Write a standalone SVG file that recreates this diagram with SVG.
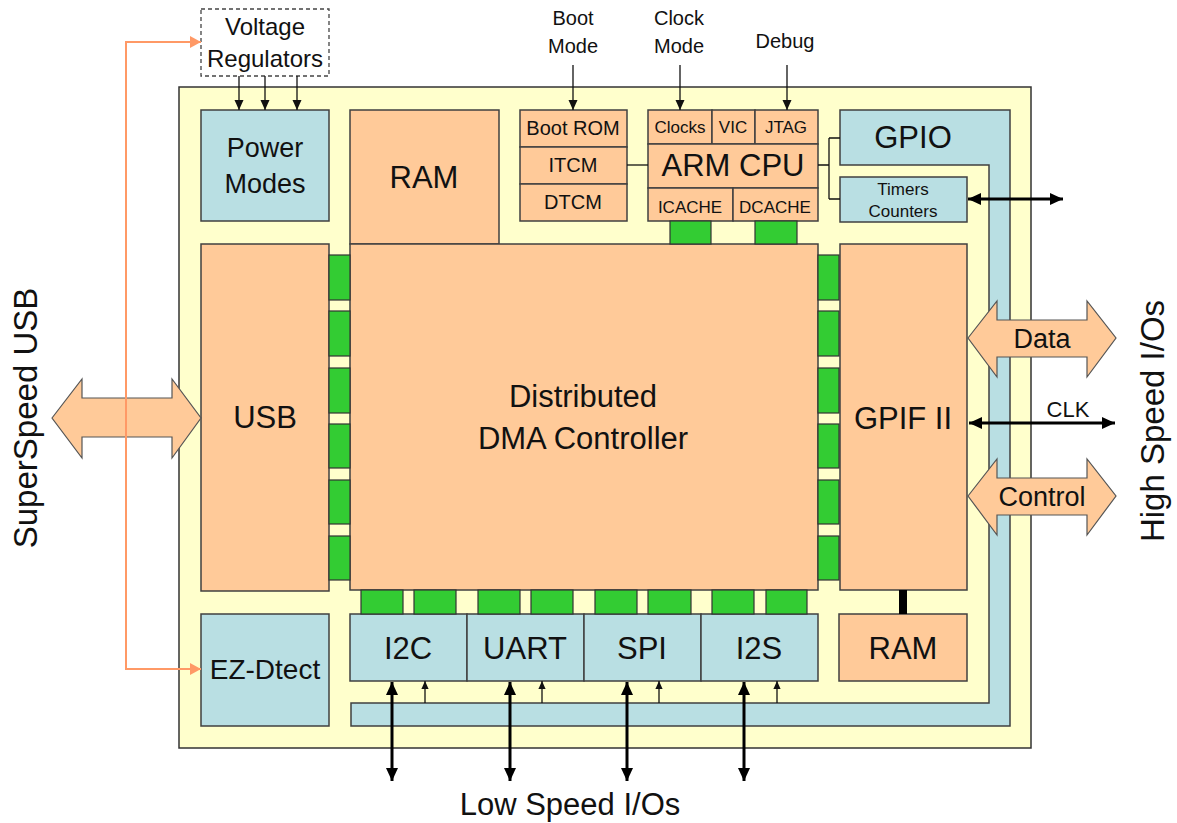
<svg xmlns="http://www.w3.org/2000/svg" width="1177" height="823" viewBox="0 0 1177 823">
<style>
text{font-family:"Liberation Sans",Arial,sans-serif;fill:#111;text-anchor:middle}
.chip{fill:#FFFFCC;stroke:#333;stroke-width:1.5}
.or{fill:#FFCA99;stroke:#404040;stroke-width:1.5}
.bl{fill:#B9DFE3;stroke:#404040;stroke-width:1.5}
.gr{fill:#33CC33;stroke:#333;stroke-width:1.2}
.thin{stroke:#111;stroke-width:1.3;fill:none}
.thick{stroke:#000;stroke-width:3;fill:none}
.orl{stroke:#FF9966;stroke-width:2;fill:none}
.bus{fill:#FFCA99;stroke:#555;stroke-width:1.2}
</style>
<defs>
<marker id="ah" markerUnits="userSpaceOnUse" markerWidth="10" markerHeight="10" viewBox="0 0 10 10" refX="10" refY="5" orient="auto"><path d="M0,0.5 L10,5 L0,9.5 Z" fill="#111"/></marker>
<marker id="ahs" markerUnits="userSpaceOnUse" markerWidth="8" markerHeight="8" viewBox="0 0 10 10" refX="10" refY="5" orient="auto"><path d="M0,0.5 L10,5 L0,9.5 Z" fill="#111"/></marker>
<marker id="ahk" markerUnits="userSpaceOnUse" markerWidth="13" markerHeight="12" viewBox="0 0 13 12" refX="13" refY="6" orient="auto-start-reverse"><path d="M0,0 L13,6 L0,12 Z" fill="#000"/></marker>
<marker id="aho" markerUnits="userSpaceOnUse" markerWidth="11" markerHeight="12" viewBox="0 0 11 12" refX="11" refY="6" orient="auto"><path d="M0,0 L11,6 L0,12 Z" fill="#FF9966"/></marker>
</defs>

<g id="chip"><rect class="chip" x="179" y="87" width="852" height="661"/></g>

<g id="gpio">
<path class="bl" d="M840,110 H1010 V726 H351 V703 H989 V165 H840 Z"/>
<text x="913" y="148" font-size="31">GPIO</text>
</g>

<g id="voltage-regulators">
<rect x="201" y="9" width="128" height="67" fill="#fff" stroke="#444" stroke-width="1.3" stroke-dasharray="4,3"/>
<text x="265" y="35" font-size="24">Voltage</text>
<text x="265" y="67" font-size="24">Regulators</text>
</g>

<g id="power-modes">
<rect class="bl" x="201" y="110" width="128" height="111"/>
<text x="265" y="157" font-size="27">Power</text>
<text x="265" y="193" font-size="27">Modes</text>
</g>

<g id="ram-top">
<rect class="or" x="350" y="110" width="149" height="134"/>
<text x="424" y="188" font-size="31">RAM</text>
</g>

<g id="boot-rom">
<rect class="or" x="520" y="110" width="107" height="37"/>
<rect class="or" x="520" y="147" width="107" height="37"/>
<rect class="or" x="520" y="184" width="107" height="37"/>
<text x="573" y="135" font-size="20">Boot ROM</text>
<text x="573" y="172" font-size="20">ITCM</text>
<text x="573" y="209" font-size="20">DTCM</text>
</g>

<g id="arm-cpu">
<rect class="or" x="648" y="110" width="64" height="34"/>
<rect class="or" x="712" y="110" width="43" height="34"/>
<rect class="or" x="755" y="110" width="63" height="34"/>
<rect class="or" x="648" y="144" width="170" height="44"/>
<rect class="or" x="648" y="188" width="85" height="33"/>
<rect class="or" x="733" y="188" width="85" height="33"/>
<text x="680" y="133" font-size="17">Clocks</text>
<text x="733" y="133" font-size="17">VIC</text>
<text x="786" y="133" font-size="17">JTAG</text>
<text x="733" y="176" font-size="31">ARM CPU</text>
<text x="690" y="213" font-size="17">ICACHE</text>
<text x="775" y="213" font-size="17">DCACHE</text>
</g>

<g id="timers-counters">
<rect class="bl" x="840" y="177" width="127" height="45"/>
<text x="903" y="195" font-size="17">Timers</text>
<text x="903" y="217" font-size="17">Counters</text>
</g>

<g id="usb">
<rect class="or" x="201" y="244" width="128" height="347"/>
<text x="265" y="428" font-size="31">USB</text>
</g>

<g id="dma">
<rect class="or" x="350" y="244" width="468" height="346"/>
<text x="583" y="407" font-size="31">Distributed</text>
<text x="583" y="449" font-size="31">DMA Controller</text>
</g>

<g id="gpif">
<rect class="or" x="840" y="244" width="127" height="346"/>
<text x="903" y="429" font-size="31">GPIF II</text>
</g>

<g id="ez-dtect">
<rect class="bl" x="201" y="614" width="128" height="112"/>
<text x="265" y="679" font-size="28">EZ-Dtect</text>
</g>

<g id="i2c"><rect class="bl" x="350" y="614" width="117" height="67"/><text x="408" y="659" font-size="31">I2C</text></g>
<g id="uart"><rect class="bl" x="467" y="614" width="117" height="67"/><text x="525" y="659" font-size="31">UART</text></g>
<g id="spi"><rect class="bl" x="584" y="614" width="117" height="67"/><text x="642" y="659" font-size="31">SPI</text></g>
<g id="i2s"><rect class="bl" x="701" y="614" width="117" height="67"/><text x="759" y="659" font-size="31">I2S</text></g>

<g id="ram-bottom">
<rect class="or" x="839" y="614" width="128" height="67"/>
<text x="903" y="659" font-size="31">RAM</text>
</g>

<g id="labels">
<text x="573" y="25" font-size="20">Boot</text>
<text x="573" y="53" font-size="20">Mode</text>
<text x="679" y="25" font-size="20">Clock</text>
<text x="679" y="53" font-size="20">Mode</text>
<text x="785" y="48" font-size="20">Debug</text>
<text x="570" y="815" font-size="31">Low Speed I/Os</text>
<text transform="translate(37,418) rotate(-90)" font-size="33">SuperSpeed USB</text>
<text transform="translate(1164,421) rotate(-90)" font-size="33">High Speed I/Os</text>
</g>

<g id="connectors">
<!-- DMA port blocks -->
<rect class="gr" x="329" y="255" width="21" height="45"/>
<rect class="gr" x="329" y="311" width="21" height="45"/>
<rect class="gr" x="329" y="368" width="21" height="45"/>
<rect class="gr" x="329" y="424" width="21" height="44"/>
<rect class="gr" x="329" y="480" width="21" height="44"/>
<rect class="gr" x="329" y="536" width="21" height="44"/>
<rect class="gr" x="818" y="255" width="21" height="45"/>
<rect class="gr" x="818" y="311" width="21" height="45"/>
<rect class="gr" x="818" y="368" width="21" height="45"/>
<rect class="gr" x="818" y="424" width="21" height="44"/>
<rect class="gr" x="818" y="480" width="21" height="44"/>
<rect class="gr" x="818" y="536" width="21" height="44"/>
<rect class="gr" x="670" y="221" width="41" height="23"/>
<rect class="gr" x="755" y="221" width="42" height="23"/>
<rect class="gr" x="361" y="590" width="42" height="24"/>
<rect class="gr" x="414" y="590" width="42" height="24"/>
<rect class="gr" x="478" y="590" width="42" height="24"/>
<rect class="gr" x="531" y="590" width="42" height="24"/>
<rect class="gr" x="595" y="590" width="42" height="24"/>
<rect class="gr" x="648" y="590" width="43" height="24"/>
<rect class="gr" x="712" y="590" width="42" height="24"/>
<rect class="gr" x="766" y="590" width="41" height="24"/>
<rect x="899" y="590" width="8" height="24" fill="#000"/>

<!-- CPU links -->
<path class="thin" d="M627,165 H648"/>
<path class="thin" d="M818,165 H829 M829,138 V199 M829,138 H840 M829,199 H840"/>

<!-- voltage regulator to power modes -->
<path class="thin" d="M239,76 V110" marker-end="url(#ah)"/>
<path class="thin" d="M265,76 V110" marker-end="url(#ah)"/>
<path class="thin" d="M297,76 V110" marker-end="url(#ah)"/>

<!-- mode inputs -->
<path class="thin" d="M573,65 V110" marker-end="url(#ah)"/>
<path class="thin" d="M680,65 V110" marker-end="url(#ah)"/>
<path class="thin" d="M787,65 V110" marker-end="url(#ah)"/>

<!-- SuperSpeed USB bus -->
<polygon class="bus" points="52,418 82,379 82,398 172,398 172,379 201,418 172,458 172,437 82,437 82,458"/>
<!-- orange VBUS line -->
<path class="orl" d="M201,42 H126 V669 H201" stroke-linejoin="miter"/>
<path d="M190,36 L201,42 L190,48 Z" fill="#FF9966"/>
<path d="M190,663 L201,669 L190,675 Z" fill="#FF9966"/>

<!-- high speed -->
<polygon class="bus" points="968,338 997,301 997,320 1087,320 1087,301 1116,338 1087,377 1087,357 997,357 997,377"/>
<polygon class="bus" points="968,496 997,459 997,478 1087,478 1087,459 1116,496 1087,535 1087,515 997,515 997,535"/>
<text x="1042" y="348" font-size="27">Data</text>
<text x="1042" y="506" font-size="27">Control</text>
<path class="thick" d="M969,423 H1115" marker-start="url(#ahk)" marker-end="url(#ahk)"/>
<text x="1068" y="417" font-size="22">CLK</text>
<path class="thick" d="M968,199 H1063" marker-start="url(#ahk)" marker-end="url(#ahk)"/>

<!-- low speed -->
<path class="thick" d="M392,682 V781" marker-start="url(#ahk)" marker-end="url(#ahk)"/>
<path class="thick" d="M510,682 V781" marker-start="url(#ahk)" marker-end="url(#ahk)"/>
<path class="thick" d="M627,682 V781" marker-start="url(#ahk)" marker-end="url(#ahk)"/>
<path class="thick" d="M744,682 V781" marker-start="url(#ahk)" marker-end="url(#ahk)"/>
<path class="thin" d="M425,703 V681" marker-end="url(#ahs)"/>
<path class="thin" d="M542,703 V681" marker-end="url(#ahs)"/>
<path class="thin" d="M659,703 V681" marker-end="url(#ahs)"/>
<path class="thin" d="M777,703 V681" marker-end="url(#ahs)"/>
</g>
</svg>
